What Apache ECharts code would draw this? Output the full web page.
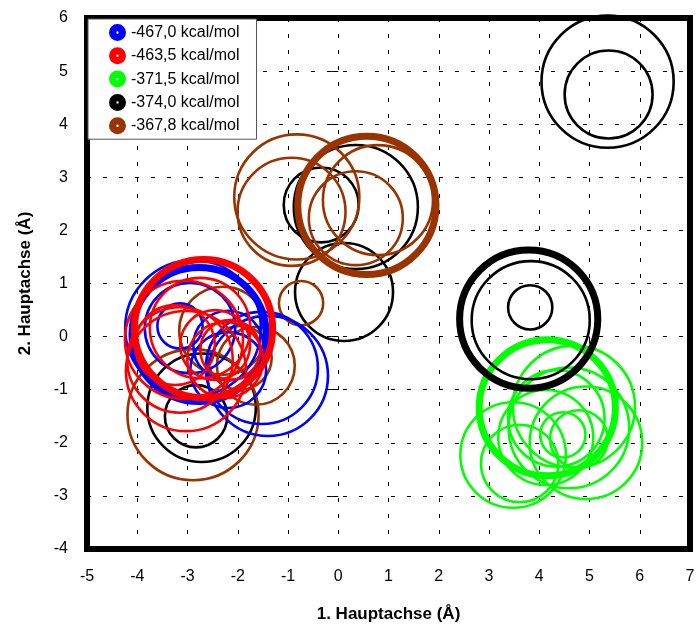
<!DOCTYPE html>
<html><head><meta charset="utf-8">
<script src="https://cdn.jsdelivr.net/npm/echarts@6/dist/echarts.min.js"></script>
<style>html,body{margin:0;padding:0;background:#fff}#c{width:700px;height:629px}</style>
</head><body><div id="c"></div>
<script>
// ---------- data: [x (Å), y (Å), bubble diameter (Å on x scale)] ----------
const seriesNames = ['-467,0 kcal/mol', '-463,5 kcal/mol', '-371,5 kcal/mol', '-374,0 kcal/mol', '-367,8 kcal/mol'];
const xRange = [-5, 7];
const yRange = [-4, 6];

const blueBest = [[-2.77, 0.04, 2.67]];
const blueOthers = [
  [-2.89, 0.16, 2.70], [-3.15, 0.20, 0.90], [-2.95, 0.16, 1.80], [-1.40, -0.74, 2.39],
  [-1.52, -0.59, 2.23], [-2.19, -0.63, 1.51], [-2.19, -0.17, 1.39]
];
const redBest = [[-2.68, 0.15, 2.75]];
const redOthers = [
  [-3.07, -0.06, 2.35], [-3.03, -0.65, 2.39], [-3.15, -0.44, 2.10], [-2.75, 0.16, 2.00],
  [-2.45, -0.16, 1.39], [-2.15, -0.25, 1.19], [-3.25, -0.16, 1.59], [-2.25, -0.44, 1.51]
];
const greenBest = [[4.16, -1.34, 2.71]];
const greenOthers = [
  [4.69, -1.32, 2.43], [4.93, -2.00, 2.24], [4.59, -1.72, 2.40], [3.48, -2.23, 2.10],
  [3.61, -2.39, 1.54], [4.47, -1.85, 0.90], [4.79, -1.93, 1.15], [4.13, -1.90, 1.89],
  [4.34, -1.54, 1.92]
];
const blackBest = [[3.79, 0.33, 2.75]];
const blackOthers = [
  [5.36, 4.80, 2.63], [5.38, 4.56, 1.75], [3.83, 0.31, 2.35], [3.82, 0.55, 0.88],
  [-0.34, 2.48, 1.49], [0.35, 2.44, 2.47], [0.115, 0.84, 1.95], [-2.72, -1.34, 2.16],
  [-2.83, -1.50, 1.24]
];
const brownBest = [[0.57, 2.47, 2.75]];
const brownOthers = [
  [-0.825, 2.63, 2.49], [-0.93, 2.35, 2.15], [0.79, 2.57, 2.19], [0.35, 2.23, 1.87],
  [-0.74, 0.63, 0.88], [-2.89, -1.47, 2.61], [-2.29, 0.11, 1.75], [-1.64, -0.55, 1.55],
  [-1.96, -0.40, 1.27]
];

// ---------- styling ----------
const colors = ['#0000FF', '#FF0000', '#00FF00', '#000000', '#993300'];
const FONT = '"Liberation Sans", Arial, sans-serif';
const iconPath = 'path://M10,0 A10,10 0 1 1 10,20 A10,10 0 1 1 10,0 Z M10,8.6 A1.4,1.4 0 1 0 10,11.4 A1.4,1.4 0 1 0 10,8.6 Z';

const chart = echarts.init(document.getElementById('c'), null, {renderer: 'canvas'});
let unit = 50;

// draw order: green, black, brown, blue, red (thin first, thick after)
const groups = [
  {i: 2, others: greenOthers, best: greenBest},
  {i: 3, others: blackOthers, best: blackBest},
  {i: 4, others: brownOthers, best: brownBest},
  {i: 0, others: blueOthers, best: blueBest},
  {i: 1, others: redOthers, best: redBest}
];

function buildSeries() {
  const s = [];
  groups.forEach(g => {
    [[g.others, 2.6], [g.best, 7]].forEach(([d, w]) => {
      s.push({
        type: 'scatter',
        name: seriesNames[g.i],
        data: d,
        symbol: 'circle',
        symbolSize: v => v[2] * unit,
        silent: true,
        clip: false,
        itemStyle: {color: 'rgba(0,0,0,0)', borderColor: colors[g.i], borderWidth: w, opacity: 1},
        emphasis: {disabled: true}
      });
    });
  });
  return s;
}

const option = {
  animation: false,
  backgroundColor: '#fff',
  grid: {left: 87, right: 10, top: 18, bottom: 80, show: true, borderColor: '#000', borderWidth: 6, backgroundColor: 'transparent'},
  legend: {
    orient: 'vertical', left: 88, top: 19,
    padding: [5, 17, 5, 21],
    itemWidth: 17, itemHeight: 17, itemGap: 6.3,
    backgroundColor: '#fff', borderColor: '#555', borderWidth: 1,
    selectedMode: false,
    textStyle: {fontSize: 16, fontFamily: FONT, color: '#000'},
    data: seriesNames.map((n, i) => ({name: n, icon: iconPath, itemStyle: {color: colors[i], borderWidth: 0, opacity: 1}}))
  },
  xAxis: {
    type: 'value', min: xRange[0], max: xRange[1], interval: 1,
    name: '1. Hauptachse (Å)', nameLocation: 'middle', nameGap: 57,
    nameTextStyle: {fontSize: 17, fontWeight: 'bold', fontFamily: FONT, color: '#000'},
    axisLine: {show: false},
    axisTick: {show: true, inside: false, length: 7, lineStyle: {color: '#000', width: 1}},
    axisLabel: {fontSize: 16, fontFamily: FONT, color: '#000', margin: 20},
    splitLine: {show: true, lineStyle: {color: '#000', width: 1, type: [4, 12]}}
  },
  yAxis: {
    type: 'value', min: yRange[0], max: yRange[1], interval: 1,
    name: '2. Hauptachse (Å)', nameLocation: 'middle', nameGap: 53, nameRotate: 90,
    nameTextStyle: {fontSize: 17, fontWeight: 'bold', fontFamily: FONT, color: '#000'},
    axisLine: {show: false},
    axisTick: {show: true, inside: false, length: 7, lineStyle: {color: '#000', width: 1}},
    axisLabel: {fontSize: 16, fontFamily: FONT, color: '#000', margin: 19},
    splitLine: {show: true, lineStyle: {color: '#000', width: 1, type: [4, 12]}}
  },
  series: buildSeries()
};

chart.setOption(option);
const p0 = chart.convertToPixel({gridIndex: 0}, [0, 0]);
const p1 = chart.convertToPixel({gridIndex: 0}, [1, 0]);
unit = p1[0] - p0[0];
chart.setOption({series: buildSeries()});
</script>
</body></html>
